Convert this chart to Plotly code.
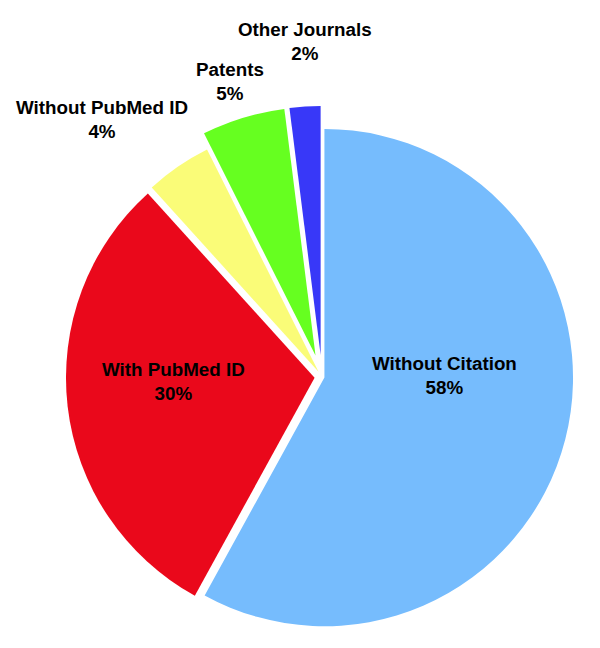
import plotly.graph_objects as go

# citation sources of the records, share in percent
labels = ["Without Citation", "With PubMed ID", "Without PubMed ID", "Patents", "Other Journals"]
values = [58.0, 30.3, 4.3, 5.4, 2.0]
colors = ["#76BCFD", "#EA081B", "#FAFC78", "#66FF20", "#3838F8"]
pulls = [0.01, 0.03, 0.025, 0.09, 0.09]

# where each slice label sits (paper coordinates)
label_xy = {
    "Without Citation": (0.7275, 0.4321),
    "With PubMed ID": (0.2758, 0.4236),
    "Without PubMed ID": (0.1567, 0.8279),
    "Patents": (0.37, 0.8873),
    "Other Journals": (0.495, 0.9483),
}

font = dict(family="Liberation Sans, Arial, sans-serif", size=18.8, color="black", weight="bold")

fig = go.Figure(go.Pie(
    labels=labels,
    values=values,
    sort=False,
    direction="clockwise",
    rotation=0,
    pull=pulls,
    marker=dict(colors=colors, line=dict(width=0)),
    textinfo="none",
    domain=dict(x=[0.0717, 0.975], y=[0.0124, 0.8488]),
    hoverinfo="label+percent",
))

total = sum(values)
for name, val in zip(labels, values):
    x, y = label_xy[name]
    fig.add_annotation(
        x=x, y=y, xref="paper", yref="paper",
        text=f"{name}<br>{round(100 * val / total)}%",
        showarrow=False, font=font,
        xanchor="center", yanchor="middle",
    )

fig.update_layout(
    width=600,
    height=648,
    showlegend=False,
    margin=dict(l=0, r=0, t=0, b=0),
    paper_bgcolor="white",
    plot_bgcolor="white",
)

fig.write_html("out.html")
